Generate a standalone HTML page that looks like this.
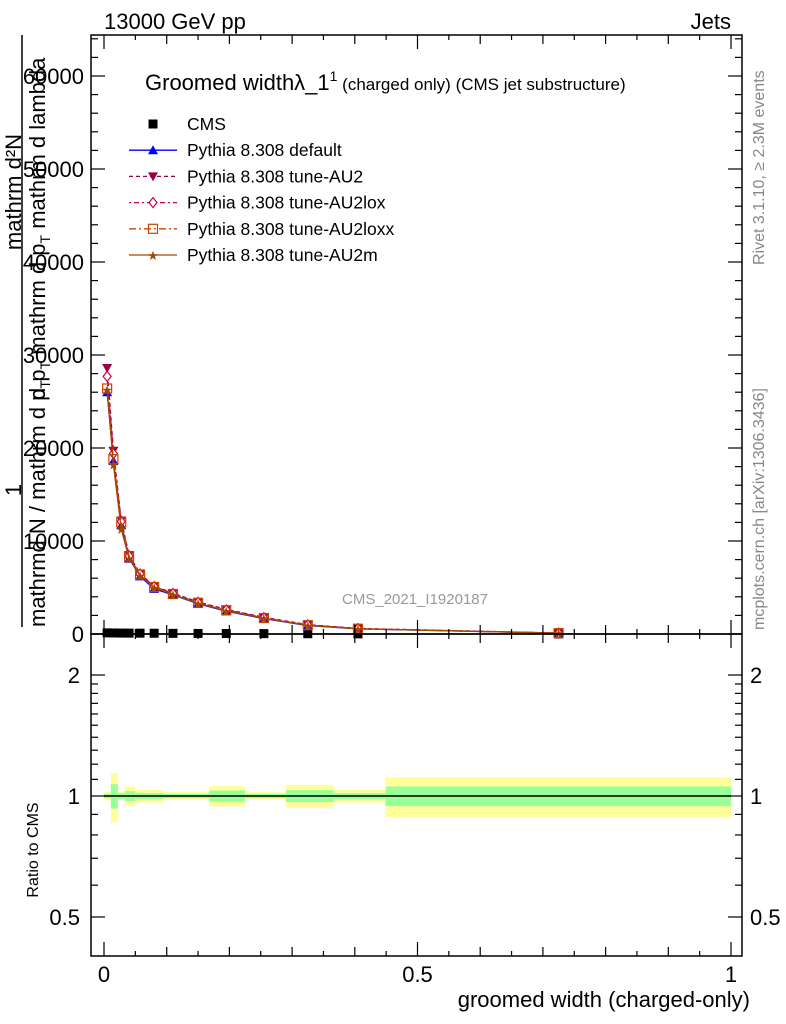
<!DOCTYPE html>
<html><head><meta charset="utf-8"><style>
body{margin:0;background:#fff;width:786px;height:1024px;overflow:hidden}
svg{display:block;font-family:"Liberation Sans",sans-serif}
</style></head><body>
<svg id="c" width="786" height="1024" xmlns="http://www.w3.org/2000/svg">
<text x="104" y="29" font-size="22">13000 GeV pp</text>
<text x="731" y="29" font-size="22" text-anchor="end">Jets</text>
<g font-size="22">
<text transform="translate(21,192) rotate(-90)" text-anchor="middle">mathrm d²N</text>
<text transform="translate(21,490) rotate(-90)" text-anchor="middle">1</text>
<line x1="22" y1="35" x2="22" y2="627" stroke="#000" stroke-width="1.5"/>
<text transform="translate(45,627) rotate(-90)">mathrmd N / mathrm d p<tspan font-size="14" dy="5">T</tspan></text>
<text transform="translate(45,400) rotate(-90)">d p<tspan font-size="14" dy="5">T</tspan><tspan dy="-5"> mathrm d p</tspan><tspan font-size="14" dy="5">T</tspan><tspan dy="-5"> mathrm d lambda</tspan></text>
</g>
<text transform="translate(764,265) rotate(-90)" font-size="16" fill="#888">Rivet 3.1.10, ≥ 2.3M events</text>
<text transform="translate(764,630) rotate(-90)" font-size="16" fill="#888">mcplots.cern.ch [arXiv:1306.3436]</text>
<text transform="translate(38,850) rotate(-90)" font-size="16" text-anchor="middle">Ratio to CMS</text>
<text x="750" y="1007" font-size="22" text-anchor="end">groomed width (charged-only)</text>
<text x="415" y="604" font-size="15" fill="#999" text-anchor="middle">CMS_2021_I1920187</text>
<g id="bands"></g><g id="main"></g><g id="axes"></g>
<g>
<text x="145" y="90" font-size="22">Groomed widthλ_1<tspan font-size="14" dy="-9">1</tspan><tspan font-size="17" dy="9"> (charged only) (CMS jet substructure)</tspan></text>
<g id="leg"></g></g>
</svg>
<script>
const edges=[0,0.01,0.02,0.035,0.045,0.07,0.09,0.13,0.17,0.22,0.29,0.36,0.45,1.0];
const cmsVals=[120,110,100,95,90,80,70,60,50,40,30,15,5];
const defVals=[26000,18600,11700,8100,6200,4850,4200,3250,2450,1650,900,550,90];
const au2Vals=[28600,19700,12200,8500,6500,5150,4400,3450,2650,1800,1000,600,100];
const au2loxVals=[27700,19400,12100,8400,6450,5100,4350,3400,2600,1750,980,580,100];
const au2loxxVals=[26400,18800,12000,8350,6400,5050,4300,3350,2550,1720,950,570,95];
const au2mVals=[26300,18200,11300,8100,6300,5000,4250,3300,2500,1700,930,560,95];
const bandEdges=[0,0.011,0.022,0.033,0.05,0.094,0.168,0.225,0.29,0.366,0.449,1.0];
const yellowErr=[2.4,14,2.3,5.6,3.6,2.2,5.8,2.2,6.6,3.6,11.3];
const greenErr=[1.2,7,1.7,2.8,1.7,1.2,3.2,1.2,3.4,1.7,5.6];
const yTicks=[0,10000,20000,30000,40000,50000,60000];
const rTicks=[0.5,1,2];
const xTicks=[0,0.5,1];
const NS="http://www.w3.org/2000/svg";
const L=91,R=742,T=35,MB=634,RB=956;
const X=v=>104+v*627;
const Y=v=>634-v*0.0093;
const RY=v=>796-Math.log2(v)*121;
function mk(p,tag,a){const e=document.createElementNS(NS,tag);for(const k in a)e.setAttribute(k,a[k]);p.appendChild(e);return e;}
const bands=document.getElementById('bands'),main=document.getElementById('main'),ax=document.getElementById('axes');
for(let i=0;i<yellowErr.length;i++){
 const x1=X(bandEdges[i]),x2=X(bandEdges[i+1]);
 const y=mk(bands,'rect',{x:x1,y:RY(1+yellowErr[i]/100),width:x2-x1,height:RY(1-yellowErr[i]/100)-RY(1+yellowErr[i]/100),fill:'#ffff99'});
 
 
 const g=mk(bands,'rect',{x:x1,y:RY(1+greenErr[i]/100),width:x2-x1,height:RY(1-greenErr[i]/100)-RY(1+greenErr[i]/100),fill:'#99ff99'});
 
 
}
const rl=mk(bands,'line',{x1:X(0),x2:X(1),y1:RY(1),y2:RY(1),stroke:'#000','stroke-width':1.5});


const centers=edges.slice(0,-1).map((e,i)=>(e+edges[i+1])/2);
function marker(p,type,x,y,col){
 if(type==='sq')return mk(p,'rect',{x:x-4.5,y:y-4.5,width:9,height:9,fill:'#000'});
 if(type==='tri')return mk(p,'path',{d:`M${x} ${y-5}L${x+5} ${y+4}L${x-5} ${y+4}Z`,fill:col});
 if(type==='itri')return mk(p,'path',{d:`M${x} ${y+5}L${x+5} ${y-4}L${x-5} ${y-4}Z`,fill:col});
 if(type==='dia')return mk(p,'path',{d:`M${x} ${y-5}L${x+4} ${y}L${x} ${y+5}L${x-4} ${y}Z`,fill:'#fff',stroke:col,'stroke-width':1.2});
 if(type==='osq')return mk(p,'rect',{x:x-4.5,y:y-4.5,width:9,height:9,fill:'none',stroke:col,'stroke-width':1.2});
 if(type==='star')return mk(p,'text',{x:x,y:y+5,'font-size':13,'text-anchor':'middle',fill:col});
}
const series=[
 {name:'Pythia 8.308 default',vals:defVals,col:'#0000ff',dash:'',m:'tri',id:'default'},
 {name:'Pythia 8.308 tune-AU2',vals:au2Vals,col:'#990044',dash:'4,3',m:'itri',id:'au2'},
 {name:'Pythia 8.308 tune-AU2lox',vals:au2loxVals,col:'#cc0044',dash:'2,3,5,3',m:'dia',id:'au2lox'},
 {name:'Pythia 8.308 tune-AU2loxx',vals:au2loxxVals,col:'#cc4400',dash:'7,3,2,3',m:'osq',id:'au2loxx'},
 {name:'Pythia 8.308 tune-AU2m',vals:au2mVals,col:'#a04a00',dash:'',m:'star',id:'au2m'}];
cmsVals.forEach((v,i)=>{
 const s=marker(main,'sq',X(centers[i]),Y(v),'#000');
 
 
});
series.forEach(s=>{
 const pl=mk(main,'polyline',{points:s.vals.map((v,i)=>X(centers[i])+','+Y(v)).join(' '),fill:'none',stroke:s.col,'stroke-width':1.3,'stroke-dasharray':s.dash});
 
 
 s.vals.forEach((v,i)=>{
  const m=marker(main,s.m,X(centers[i]),Y(v),s.col);
  if(s.m==='star')m.textContent='★';
  
  
 });
});
const leg=document.getElementById('leg');
const legItems=[{name:'CMS',m:'sq',col:'#000',dash:null}].concat(series);
legItems.forEach((s,i)=>{
 const y=124+i*26.2;
 const g=mk(leg,'g',{});
 
 
 if(s.dash!==null)mk(g,'line',{x1:129,x2:177,y1:y,y2:y,stroke:s.col,'stroke-width':1.3,'stroke-dasharray':s.dash});
 const m=marker(g,s.m,153,y,s.col);if(s.m==='star')m.textContent='★';
 const t=mk(g,'text',{x:187,y:y+6,'font-size':17.5});t.textContent=s.name;
});
[[T,MB],[MB,RB]].forEach(([t,b])=>{mk(ax,'rect',{x:L,y:t,width:R-L,height:b-t,fill:'none',stroke:'#000','stroke-width':1.5});});
for(let k=0;k<=20;k++){const v=k*0.05,x=X(v),len=(k%10===0)?14:(k%2===0?9:5);
 [[T,1],[MB,-1],[MB,1],[RB,-1]].forEach(([y0,d])=>mk(ax,'line',{x1:x,x2:x,y1:y0,y2:y0+d*len,stroke:'#000','stroke-width':1.2}));}
for(let v=0;v<=64000;v+=2000){const y=Y(v),len=v%10000===0?14:7;
 mk(ax,'line',{x1:L,x2:L+len,y1:y,y2:y,stroke:'#000','stroke-width':1.2});
 mk(ax,'line',{x1:R,x2:R-len,y1:y,y2:y,stroke:'#000','stroke-width':1.2});}
yTicks.forEach(v=>{const t=mk(ax,'text',{x:84,y:Y(v)+8,'font-size':22,'text-anchor':'end'});t.textContent=v;
 
 });
[0.5,0.6,0.7,0.8,0.9,1,1.1,1.2,1.3,1.4,1.5,1.6,1.7,1.8,1.9,2].forEach(v=>{const y=RY(v),len=rTicks.includes(v)?14:7;
 mk(ax,'line',{x1:L,x2:L+len,y1:y,y2:y,stroke:'#000','stroke-width':1.2});
 mk(ax,'line',{x1:R,x2:R-len,y1:y,y2:y,stroke:'#000','stroke-width':1.2});});
rTicks.forEach(v=>{[[80,'end'],[750,'start']].forEach(([x,a])=>{const t=mk(ax,'text',{x:x,y:RY(v)+8,'font-size':22,'text-anchor':a});t.textContent=v;
 
 });});
xTicks.forEach(v=>{const t=mk(ax,'text',{x:X(v),y:982,'font-size':22,'text-anchor':'middle'});t.textContent=v;
 
 });
</script>
</body></html>
